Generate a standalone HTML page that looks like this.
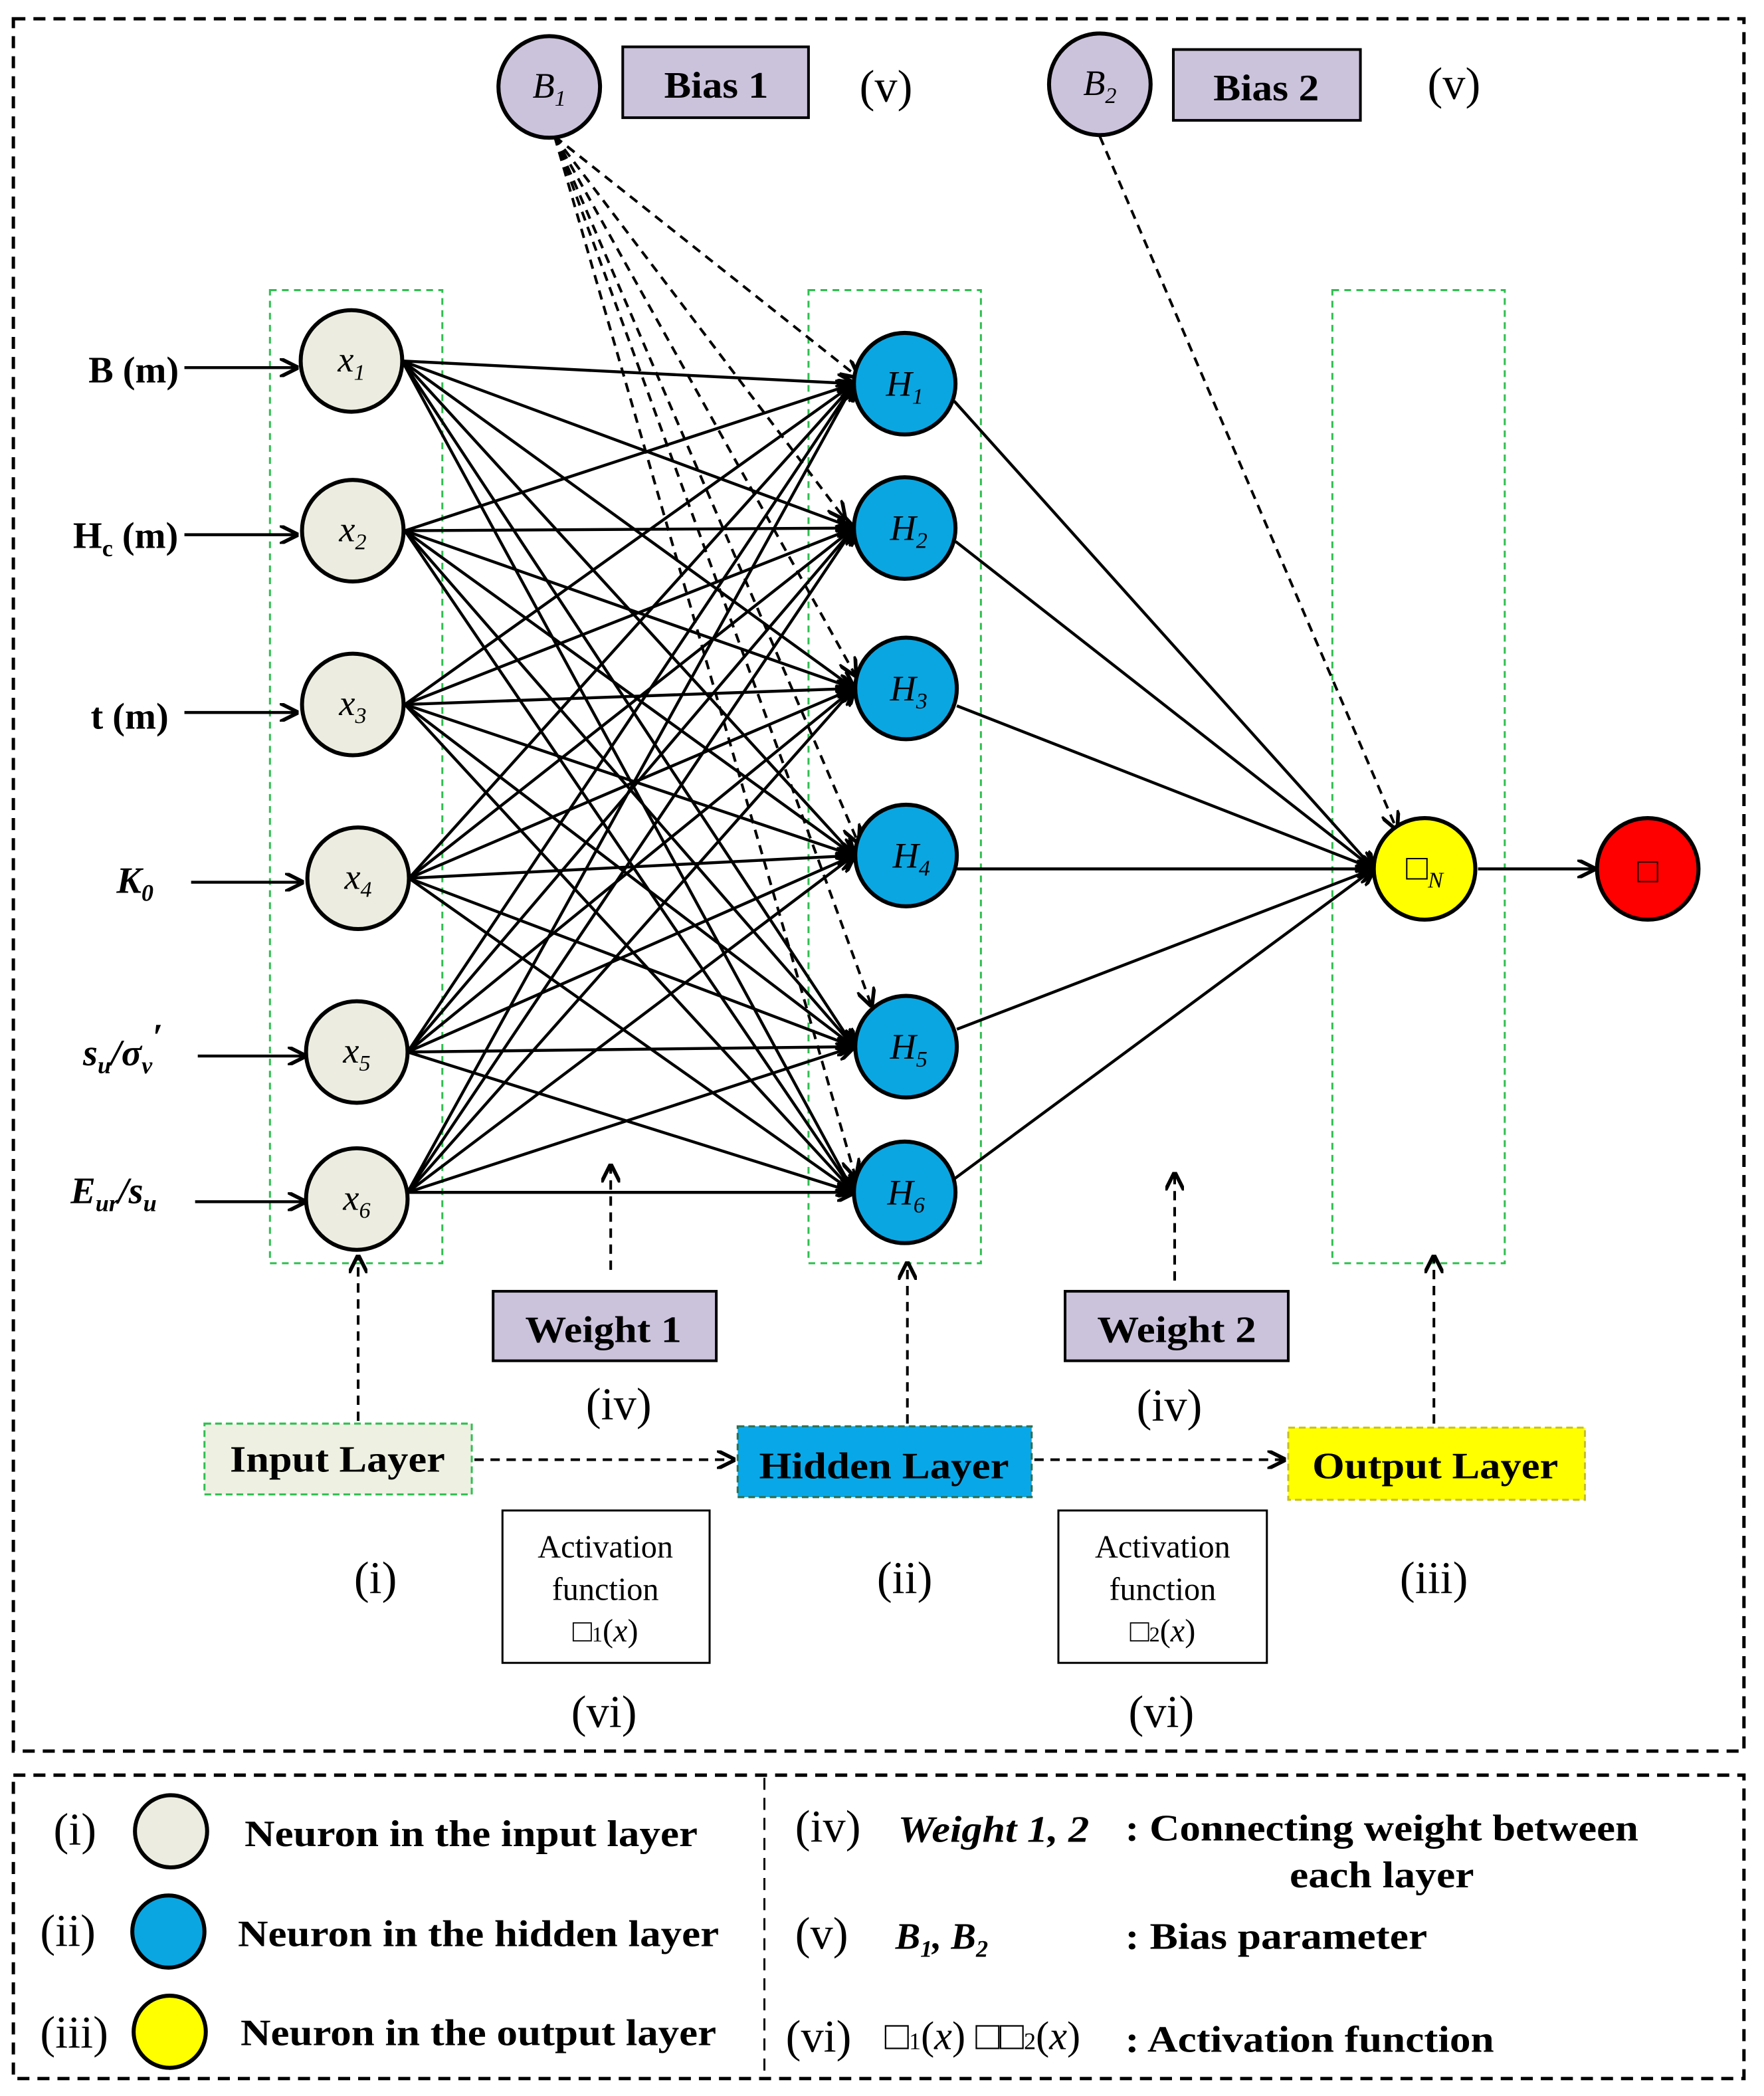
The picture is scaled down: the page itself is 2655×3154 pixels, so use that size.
<!DOCTYPE html>
<html><head><meta charset="utf-8"><style>html,body{margin:0;padding:0;background:#fff}svg{display:block}text{font-family:"Liberation Serif",serif}</style></head><body>
<svg width="2655" height="3154" viewBox="0 0 1320 1568" xmlns="http://www.w3.org/2000/svg">
<defs>
<marker id="b" viewBox="0 0 10 10" refX="9" refY="5" markerWidth="14" markerHeight="14" orient="auto" markerUnits="userSpaceOnUse"><path d="M0,0 L10,5 L0,10" fill="none" stroke="#000" stroke-width="2"/></marker>
</defs>
<rect x="10" y="14" width="1295" height="1296" fill="none" stroke="#000" stroke-width="2.5" stroke-dasharray="9,6"/>
<rect x="10" y="1328" width="1295" height="227" fill="none" stroke="#000" stroke-width="2.5" stroke-dasharray="9,6"/>
<line x1="572" y1="1330" x2="572" y2="1553" stroke="#000" stroke-width="1.5" stroke-dasharray="9,6"/>
<g fill="none" stroke="#2fbf4f" stroke-width="1.5" stroke-dasharray="5,4">
<rect x="202" y="217" width="129" height="728"/><rect x="605" y="217" width="129" height="728"/><rect x="997" y="217" width="129" height="728"/></g>
<g stroke="#000" stroke-width="2.2" marker-end="url(#b)">
<line x1="301" y1="270" x2="639" y2="287"/><line x1="301" y1="270" x2="639" y2="395"/><line x1="301" y1="270" x2="639" y2="515"/><line x1="301" y1="270" x2="639" y2="640"/><line x1="301" y1="270" x2="639" y2="783"/><line x1="301" y1="270" x2="639" y2="892"/>
<line x1="303" y1="397" x2="639" y2="287"/><line x1="303" y1="397" x2="639" y2="395"/><line x1="303" y1="397" x2="639" y2="515"/><line x1="303" y1="397" x2="639" y2="640"/><line x1="303" y1="397" x2="639" y2="783"/><line x1="303" y1="397" x2="639" y2="892"/>
<line x1="303" y1="527" x2="639" y2="287"/><line x1="303" y1="527" x2="639" y2="395"/><line x1="303" y1="527" x2="639" y2="515"/><line x1="303" y1="527" x2="639" y2="640"/><line x1="303" y1="527" x2="639" y2="783"/><line x1="303" y1="527" x2="639" y2="892"/>
<line x1="306" y1="657" x2="639" y2="287"/><line x1="306" y1="657" x2="639" y2="395"/><line x1="306" y1="657" x2="639" y2="515"/><line x1="306" y1="657" x2="639" y2="640"/><line x1="306" y1="657" x2="639" y2="783"/><line x1="306" y1="657" x2="639" y2="892"/>
<line x1="305" y1="787" x2="639" y2="287"/><line x1="305" y1="787" x2="639" y2="395"/><line x1="305" y1="787" x2="639" y2="515"/><line x1="305" y1="787" x2="639" y2="640"/><line x1="305" y1="787" x2="639" y2="783"/><line x1="305" y1="787" x2="639" y2="892"/>
<line x1="305" y1="892" x2="639" y2="287"/><line x1="305" y1="892" x2="639" y2="395"/><line x1="305" y1="892" x2="639" y2="515"/><line x1="305" y1="892" x2="639" y2="640"/><line x1="305" y1="892" x2="639" y2="783"/><line x1="305" y1="892" x2="639" y2="892"/>
<line x1="714" y1="300" x2="1028" y2="650"/><line x1="715" y1="405" x2="1028" y2="650"/><line x1="716" y1="528" x2="1028" y2="650"/><line x1="716" y1="650" x2="1028" y2="650"/><line x1="716" y1="770" x2="1028" y2="650"/><line x1="714" y1="882" x2="1028" y2="650"/>
<line x1="1106" y1="650" x2="1193" y2="650"/>
<line x1="138" y1="275" x2="222" y2="275"/><line x1="138" y1="400" x2="222" y2="400"/><line x1="138" y1="533" x2="222" y2="533"/><line x1="143" y1="660" x2="226" y2="660"/><line x1="148" y1="790" x2="228" y2="790"/><line x1="146" y1="899" x2="228" y2="899"/>
</g>
<g stroke="#000" stroke-width="2" stroke-dasharray="7,5" fill="none" marker-end="url(#b)">
<line x1="415" y1="102" x2="642" y2="282"/><line x1="415" y1="102" x2="632" y2="388"/><line x1="415" y1="102" x2="640" y2="505"/><line x1="415" y1="102" x2="642" y2="630"/><line x1="415" y1="102" x2="652" y2="752"/><line x1="415" y1="102" x2="640" y2="880"/>
<line x1="823" y1="102" x2="1045" y2="620"/>
<line x1="457" y1="950" x2="457" y2="872"/><line x1="879" y1="958" x2="879" y2="878"/>
<line x1="268" y1="1063" x2="268" y2="940"/><line x1="679" y1="1065" x2="679" y2="945"/><line x1="1073" y1="1065" x2="1073" y2="940"/>
<line x1="355" y1="1092" x2="549" y2="1092"/><line x1="774" y1="1092" x2="961" y2="1092"/>
</g>
<g stroke="#000" stroke-width="3">
<g fill="#ecede0"><circle cx="263" cy="270" r="38"/><circle cx="264" cy="397" r="38"/><circle cx="264" cy="527" r="38"/><circle cx="268" cy="657" r="38"/><circle cx="267" cy="787" r="38"/><circle cx="267" cy="897" r="38"/></g>
<g fill="#0aa6e2"><circle cx="677" cy="287" r="38"/><circle cx="677" cy="395" r="38"/><circle cx="678" cy="515" r="38"/><circle cx="678" cy="640" r="38"/><circle cx="678" cy="783" r="38"/><circle cx="677" cy="892" r="38"/></g>
<circle cx="1066" cy="650" r="38" fill="#ffff00"/><circle cx="1233" cy="650" r="38" fill="#ff0000"/>
<circle cx="411" cy="65" r="38" fill="#cbc3dc"/><circle cx="823" cy="63" r="38" fill="#cbc3dc"/>
</g>
<g stroke="#000" stroke-width="2" fill="#cbc3dc"><rect x="466" y="35" width="139" height="53"/><rect x="878" y="37" width="140" height="53"/><rect x="369" y="966" width="167" height="52"/><rect x="797" y="966" width="167" height="52"/></g>
<g stroke="#000" stroke-width="1.5" fill="#fff"><rect x="376" y="1130" width="155" height="114"/><rect x="792" y="1130" width="156" height="114"/></g>
<g stroke="#2fbf4f" stroke-width="1.5" stroke-dasharray="5,3"><rect x="153" y="1065" width="200" height="53" fill="#eef0e2"/></g>
<g stroke="#2f6f4f" stroke-width="1.5" stroke-dasharray="5,3"><rect x="552" y="1067" width="220" height="53" fill="#08a8e8"/></g>
<g stroke="#c8c020" stroke-width="1.5" stroke-dasharray="5,3"><rect x="964" y="1068" width="222" height="54" fill="#ffff00"/></g>
<g font-weight="bold" font-size="28">
<text x="497" y="73" textLength="78" lengthAdjust="spacingAndGlyphs">Bias 1</text><text x="908" y="75" textLength="79" lengthAdjust="spacingAndGlyphs">Bias 2</text>
<text x="393" y="1004" textLength="117" lengthAdjust="spacingAndGlyphs">Weight 1</text><text x="821" y="1004" textLength="119" lengthAdjust="spacingAndGlyphs">Weight 2</text>
<text x="172" y="1101" textLength="161" lengthAdjust="spacingAndGlyphs">Input Layer</text><text x="568" y="1106" textLength="187" lengthAdjust="spacingAndGlyphs">Hidden Layer</text><text x="982" y="1106" textLength="184" lengthAdjust="spacingAndGlyphs">Output Layer</text>
</g>
<g font-size="34" text-anchor="middle">
<text x="663" y="76">(v)</text><text x="1088" y="74">(v)</text>
<text x="463" y="1062">(iv)</text><text x="875" y="1063">(iv)</text>
<text x="281" y="1192">(i)</text><text x="677" y="1192">(ii)</text><text x="1073" y="1192">(iii)</text>
<text x="452" y="1292">(vi)</text><text x="869" y="1292">(vi)</text>
</g>
<g font-size="24" text-anchor="middle">
<text x="453" y="1165">Activation</text><text x="453" y="1197">function</text><text x="453" y="1228">□<tspan font-size="16">1</tspan>(<tspan font-style="italic">x</tspan>)</text>
<text x="870" y="1165">Activation</text><text x="870" y="1197">function</text><text x="870" y="1228">□<tspan font-size="16">2</tspan>(<tspan font-style="italic">x</tspan>)</text>
</g>
<g font-style="italic" font-size="27" text-anchor="middle">
<text x="263" y="278">x<tspan font-size="17" dy="6">1</tspan></text>
<text x="264" y="405">x<tspan font-size="17" dy="6">2</tspan></text>
<text x="264" y="535">x<tspan font-size="17" dy="6">3</tspan></text>
<text x="268" y="665">x<tspan font-size="17" dy="6">4</tspan></text>
<text x="267" y="795">x<tspan font-size="17" dy="6">5</tspan></text>
<text x="267" y="905">x<tspan font-size="17" dy="6">6</tspan></text>
<text x="677" y="296">H<tspan font-size="17" dy="6">1</tspan></text>
<text x="680" y="404">H<tspan font-size="17" dy="6">2</tspan></text>
<text x="680" y="524">H<tspan font-size="17" dy="6">3</tspan></text>
<text x="682" y="649">H<tspan font-size="17" dy="6">4</tspan></text>
<text x="680" y="792">H<tspan font-size="17" dy="6">5</tspan></text>
<text x="678" y="901">H<tspan font-size="17" dy="6">6</tspan></text>
<text x="411" y="73">B<tspan font-size="17" dy="6">1</tspan></text>
<text x="823" y="71">B<tspan font-size="17" dy="6">2</tspan></text>
<text x="1066" y="658">□<tspan font-size="17" dy="6">N</tspan></text>
</g>
<text x="1233" y="660" font-size="26" text-anchor="middle">□</text>
<g font-weight="bold" font-size="28" text-anchor="middle">
<text x="100" y="286">B (m)</text>
<text x="94" y="410">H<tspan font-size="18" dy="6">c</tspan><tspan dy="-6"> (m)</tspan></text>
<text x="97" y="545">t (m)</text>
<text x="101" y="668" font-style="italic">K<tspan font-size="18" dy="6">0</tspan></text>
<text x="92" y="797" font-style="italic">s<tspan font-size="18" dy="6">u</tspan><tspan dy="-6">/σ</tspan><tspan font-size="18" dy="6">v</tspan><tspan dy="-18">′</tspan></text>
<text x="85" y="900" font-style="italic">E<tspan font-size="18" dy="6">ur</tspan><tspan dy="-6">/s</tspan><tspan font-size="18" dy="6">u</tspan></text>
</g>
<g stroke="#000" stroke-width="3"><circle cx="128" cy="1370" r="27" fill="#ecede0"/><circle cx="126" cy="1445" r="27" fill="#0aa6e2"/><circle cx="127" cy="1520" r="27" fill="#ffff00"/></g>
<g font-size="34"><text x="40" y="1380">(i)</text><text x="30" y="1456">(ii)</text><text x="30" y="1532">(iii)</text>
<text x="595" y="1378">(iv)</text><text x="595" y="1458">(v)</text><text x="588" y="1535">(vi)</text></g>
<g font-weight="bold" font-size="28" lengthAdjust="spacingAndGlyphs">
<text x="183" y="1381" textLength="339" lengthAdjust="spacingAndGlyphs">Neuron in the input layer</text>
<text x="178" y="1456" textLength="360" lengthAdjust="spacingAndGlyphs">Neuron in the hidden layer</text>
<text x="180" y="1530" textLength="356" lengthAdjust="spacingAndGlyphs">Neuron in the output layer</text>
<text x="842" y="1377" textLength="384" lengthAdjust="spacingAndGlyphs">: Connecting weight between</text>
<text x="965" y="1412" textLength="138" lengthAdjust="spacingAndGlyphs">each layer</text>
<text x="842" y="1458" textLength="226" lengthAdjust="spacingAndGlyphs">: Bias parameter</text>
<text x="842" y="1535" textLength="276" lengthAdjust="spacingAndGlyphs">: Activation function</text>
<text x="672" y="1378" font-style="italic" textLength="143" lengthAdjust="spacingAndGlyphs">Weight 1, 2</text>
<text x="670" y="1458" font-style="italic">B<tspan font-size="18" dy="6">1</tspan><tspan dy="-6">, B</tspan><tspan font-size="18" dy="6">2</tspan></text>
</g>
<text x="662" y="1533" font-size="30">□<tspan font-size="18">1</tspan>(<tspan font-style="italic">x</tspan>) □□<tspan font-size="18">2</tspan>(<tspan font-style="italic">x</tspan>)</text>
</svg>
</body></html>
